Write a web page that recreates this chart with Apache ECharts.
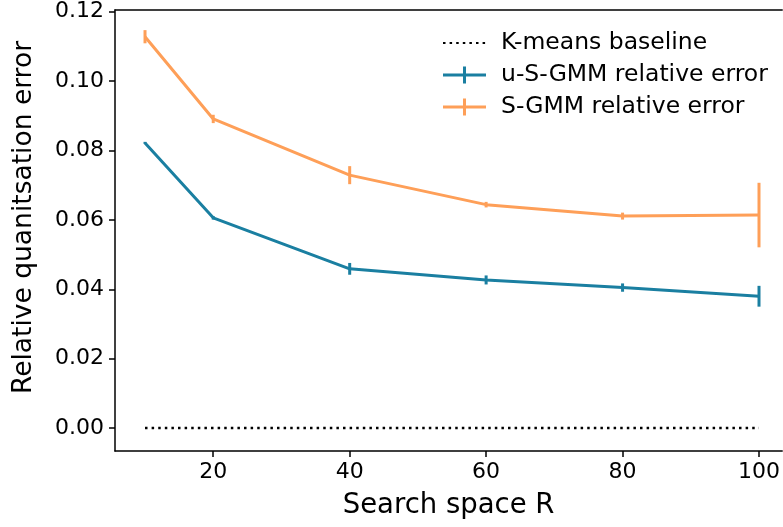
<!DOCTYPE html>
<html>
<head>
<meta charset="utf-8">
<script src="https://cdn.jsdelivr.net/npm/echarts@6/dist/echarts.min.js"></script>
<style>html,body{margin:0;padding:0;background:#fff}#c{width:783px;height:527px}</style>
</head>
<body>
<div id="c"></div>
<script>
const R = [10, 20, 40, 60, 80, 100];
const kmeans = [0, 0, 0, 0, 0, 0];
const usgmmMean = [0.0822, 0.0606, 0.0459, 0.0427, 0.0405, 0.0380];
const usgmmErr  = [0.0003, 0.0005, 0.0017, 0.0013, 0.0012, 0.0030];
const sgmmMean  = [0.1128, 0.0891, 0.0729, 0.0644, 0.0611, 0.0614];
const sgmmErr   = [0.0019, 0.0012, 0.0026, 0.0008, 0.0010, 0.0093];
const xTicks = [20, 40, 60, 80, 100];
const yTicks = [0, 0.02, 0.04, 0.06, 0.08, 0.10, 0.12];

const BLUE = '#1a7fa1';
const ORANGE = '#fe9f58';
const FONT = 'DejaVu Sans, Liberation Sans, Arial, sans-serif';

function pairs(m){ return R.map((x,i)=>[x,m[i]]); }
function errData(m,e){ return R.map((x,i)=>[x, m[i]-e[i], m[i]+e[i]]); }
function errRender(color){
  return function(params, api){
    const p1 = api.coord([api.value(0), api.value(1)]);
    const p2 = api.coord([api.value(0), api.value(2)]);
    return {type:'line', shape:{x1:p1[0],y1:p1[1],x2:p2[0],y2:p2[1]}, style:{stroke:color, lineWidth:3}};
  };
}
const plusIcon = 'path://M0,7h43v3h-43z M20,0h3v17h-3z';

const chart = echarts.init(document.getElementById('c'), null, {renderer:'canvas'});
chart.setOption({
  animation:false,
  textStyle:{fontFamily:FONT},
  grid:{left:115, right:0, top:10, bottom:76, containLabel:false},
  legend:{
    orient:'vertical', left:442, top:31, padding:0, itemGap:8,
    itemWidth:43, itemHeight:17,
    textStyle:{fontSize:23.5, color:'#000', fontFamily:FONT, lineHeight:24, padding:[0,0,0,10]},
    data:[
      {name:'K-means baseline', itemStyle:{color:'rgba(0,0,0,0)', borderColor:'rgba(0,0,0,0)', borderWidth:0, opacity:0}},
      {name:'u-S-GMM relative error', icon:plusIcon, itemStyle:{color:BLUE}},
      {name:'S-GMM relative error', icon:plusIcon, itemStyle:{color:ORANGE}}
    ]
  },
  xAxis:[{
    type:'value', min:5.6, max:103.4,
    name:'Search space R', nameLocation:'middle', nameGap:41,
    nameTextStyle:{fontSize:27.5, color:'#000', fontFamily:FONT},
    axisLine:{show:true, onZero:false, lineStyle:{color:'#000', width:1.5}},
    axisTick:{show:true, length:6, lineStyle:{color:'#000', width:1.5}, customValues:xTicks},
    axisLabel:{fontSize:22, color:'#000', margin:10, customValues:xTicks, fontFamily:FONT},
    splitLine:{show:false}
  },{
    type:'value', min:5.6, max:103.4, position:'top',
    axisLine:{show:true, onZero:false, lineStyle:{color:'#000', width:1.5}},
    axisTick:{show:false}, axisLabel:{show:false}, splitLine:{show:false}
  }],
  yAxis:{
    type:'value', min:-0.0066, max:0.1205,
    name:'Relative quanitsation error', nameLocation:'middle', nameGap:77, nameRotate:90,
    nameTextStyle:{fontSize:26.5, color:'#000', fontFamily:FONT, padding:[0,0,0,26]},
    axisLine:{show:true, onZero:false, lineStyle:{color:'#000', width:1.5}},
    axisTick:{show:true, length:6, lineStyle:{color:'#000', width:1.5}, customValues:yTicks},
    axisLabel:{fontSize:22, color:'#000', margin:11, customValues:yTicks, fontFamily:FONT,
      formatter:v=>v.toFixed(2)},
    splitLine:{show:false}
  },
  series:[
    {name:'K-means baseline', type:'line', data:pairs(kmeans), symbol:'none',
     lineStyle:{color:'#000', width:2.5, type:[2.5,4.1], cap:'butt'}, itemStyle:{color:'#000'}},
    {name:'u-S-GMM relative error', type:'line', data:pairs(usgmmMean), symbol:'none',
     lineStyle:{color:BLUE, width:3}, itemStyle:{color:BLUE}},
    {name:'u-S-GMM relative error', type:'custom', data:errData(usgmmMean,usgmmErr),
     encode:{x:0, y:[1,2]}, renderItem:errRender(BLUE), itemStyle:{color:BLUE}},
    {name:'S-GMM relative error', type:'line', data:pairs(sgmmMean), symbol:'none',
     lineStyle:{color:ORANGE, width:3}, itemStyle:{color:ORANGE}},
    {name:'S-GMM relative error', type:'custom', data:errData(sgmmMean,sgmmErr),
     encode:{x:0, y:[1,2]}, renderItem:errRender(ORANGE), itemStyle:{color:ORANGE}}
  ]
});
</script>
</body>
</html>
